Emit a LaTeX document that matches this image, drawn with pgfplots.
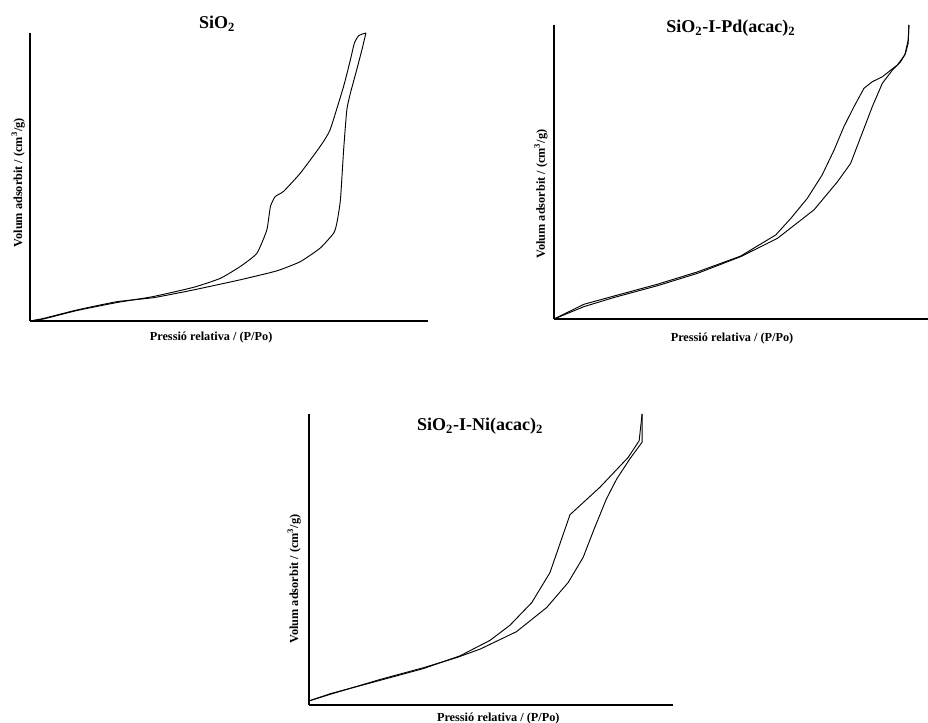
\documentclass[border=0pt]{standalone}
\usepackage{fontspec}
\setmainfont{Liberation Serif}
\usepackage{pgfplots}
\pgfplotsset{compat=1.18}

% isotherm panels: only left and bottom lines, no ticks
\pgfplotsset{iso/.style={
    scale only axis,
    axis x line*=bottom, axis y line*=left,
    axis line style={-, line width=0.8pt},
    xtick=\empty, ytick=\empty,
    xmin=0, xmax=1, ymin=0, ymax=1,
    enlargelimits=false, clip=false,
    every axis plot post/.append style={black, line width=0.7pt, mark=none},
    every axis title shift=0pt,
    title style={font=\fontsize{13.5}{15}\selectfont\bfseries, anchor=center},
    xlabel style={font=\fontsize{9.2}{10}\selectfont\bfseries, anchor=center},
    ylabel style={font=\fontsize{9.2}{10}\selectfont\bfseries, anchor=center, rotate=0},
    xlabel={Pressió relativa / (P/Po)},
    ylabel={Volum adsorbit / (cm\textsuperscript{3}/g)},
}}

\begin{document}
\begin{tikzpicture}
\useasboundingbox (0,0) rectangle (696pt,541.5pt);

% SiO2
\begin{axis}[iso, at={(22.5pt,300.75pt)}, anchor=origin,
    width=298.5pt, height=216pt,
    title={SiO\textsubscript{2}},
    title style={at={(axis description cs:0.47,1.031)}},
    xlabel style={at={(axis description cs:0.455,-0.056)}},
    ylabel style={at={(axis description cs:-0.030,0.48)}},
  ]
  % adsorption
  \addplot+[smooth, tension=0.3] coordinates {(0,0) (0.034,0.009) (0.117,0.038) (0.218,0.067) (0.310,0.081)
    (0.411,0.108) (0.528,0.143) (0.620,0.174) (0.679,0.206) (0.729,0.253) (0.763,0.305)
    (0.771,0.340) (0.780,0.421) (0.788,0.594) (0.796,0.733) (0.805,0.791) (0.821,0.873)
    (0.834,0.942) (0.844,1.0)};
  % desorption
  \addplot+[smooth, tension=0.3] coordinates {(0.844,1.0) (0.826,0.991) (0.815,0.965) (0.805,0.907) (0.788,0.815)
    (0.754,0.664) (0.729,0.606) (0.679,0.513) (0.637,0.450) (0.616,0.432) (0.604,0.397)
    (0.595,0.316) (0.570,0.235) (0.528,0.189) (0.478,0.148) (0.411,0.117) (0.310,0.085)
    (0.218,0.064) (0.117,0.036) (0.034,0.007) (0,0)};
\end{axis}

% SiO2-I-Pd(acac)2
\begin{axis}[iso, at={(415.5pt,302.25pt)}, anchor=origin,
    width=280.5pt, height=220.5pt,
    title={SiO\textsubscript{2}-I-Pd(acac)\textsubscript{2}},
    title style={at={(axis description cs:0.473,0.99)}},
    xlabel style={at={(axis description cs:0.476,-0.065)}},
    ylabel style={at={(axis description cs:-0.035,0.425)}},
  ]
  \addplot coordinates {(0,0) (0.080,0.042) (0.160,0.073) (0.276,0.113) (0.383,0.155)
    (0.499,0.212) (0.597,0.274) (0.695,0.371) (0.758,0.467) (0.793,0.529) (0.824,0.632)
    (0.851,0.722) (0.878,0.802) (0.905,0.847) (0.927,0.875) (0.940,0.904) (0.947,0.938)
    (0.949,1.0)};
  \addplot coordinates {(0.949,1.0) (0.947,0.949) (0.938,0.898) (0.918,0.864) (0.878,0.824)
    (0.851,0.807) (0.829,0.785) (0.802,0.722) (0.775,0.654) (0.749,0.575) (0.717,0.490)
    (0.677,0.410) (0.633,0.342) (0.593,0.286) (0.499,0.214) (0.383,0.160) (0.276,0.118)
    (0.160,0.078) (0.080,0.050) (0,0)};
\end{axis}

% SiO2-I-Ni(acac)2
\begin{axis}[iso, at={(231.75pt,12.75pt)}, anchor=origin,
    width=273pt, height=218.25pt,
    title={SiO\textsubscript{2}-I-Ni(acac)\textsubscript{2}},
    title style={at={(axis description cs:0.47,0.959)}},
    xlabel style={at={(axis description cs:0.52,-0.045)}},
    ylabel style={at={(axis description cs:-0.041,0.433)}},
  ]
  \addplot coordinates {(0,0.014) (0.059,0.037) (0.196,0.088) (0.314,0.128) (0.406,0.163)
    (0.470,0.192) (0.570,0.252) (0.653,0.335) (0.712,0.421) (0.753,0.507) (0.785,0.610)
    (0.817,0.708) (0.845,0.776) (0.881,0.845) (0.915,0.903) (0.915,1.0)};
  \addplot coordinates {(0.915,1.0) (0.907,0.908) (0.877,0.851) (0.799,0.748) (0.717,0.654)
    (0.662,0.455) (0.612,0.352) (0.552,0.274) (0.497,0.222) (0.415,0.169) (0.314,0.125)
    (0.196,0.085) (0.059,0.039) (0,0.014)};
\end{axis}
\end{tikzpicture}
\end{document}
